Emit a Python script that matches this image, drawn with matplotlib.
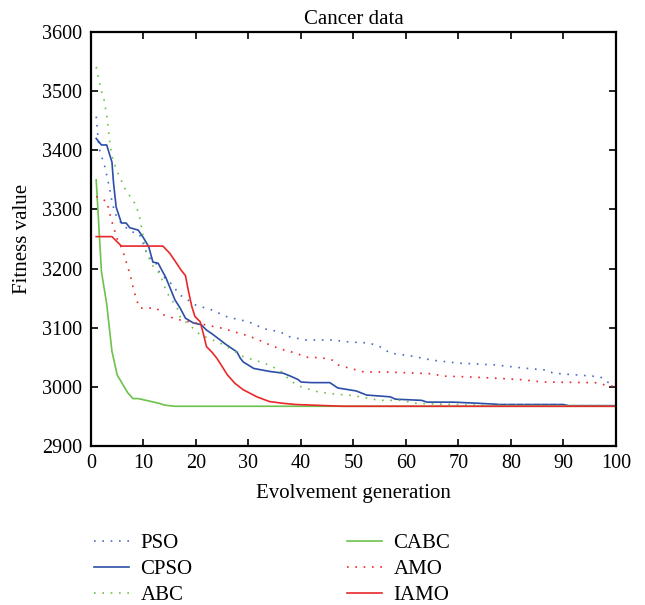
import matplotlib
matplotlib.use("Agg")
from matplotlib import pyplot as plt

plt.rcParams["font.family"] = ["Liberation Serif", "DejaVu Serif"]

# (generation, fitness value) points
pso_gen = [1, 1.5, 2, 2.5, 3, 3.5, 4, 4.5, 5, 6, 7.7, 9, 9.6, 10.2, 10.9, 12.4, 13.1, 15.2, 17, 20,
           23, 26, 30, 33, 36, 38, 41, 46, 49, 53, 55, 57, 61, 65, 70, 77, 82, 87, 88, 97, 98, 100]
pso_val = [3457, 3405, 3390, 3378, 3358, 3338, 3314, 3296, 3286, 3274, 3262, 3260, 3252, 3235, 3220,
           3209, 3192, 3175, 3155, 3138, 3130, 3118, 3110, 3098, 3093, 3084, 3079, 3079, 3076, 3074,
           3068, 3057, 3052, 3045, 3040, 3037, 3032, 3028, 3023, 3017, 3010, 3000]

cpso_gen = [1, 2, 3, 4, 4.3, 4.8, 5.8, 6.7, 7.4, 9, 10, 11, 11.8, 12.8, 14.3, 16, 17, 18, 19.5, 21,
            22, 23.3, 25.8, 27.8, 28.4, 29, 31, 34, 36.6, 38, 39.5, 40, 42, 45.5, 47, 50.5, 52.5, 57,
            58, 63, 64, 69, 74, 78, 90, 91, 100]
cpso_val = [3420, 3409, 3409, 3380, 3345, 3304, 3277, 3277, 3269, 3265, 3252, 3237, 3211, 3209, 3184,
            3147, 3133, 3116, 3108, 3105, 3096, 3088, 3071, 3059, 3049, 3042, 3031, 3026, 3023, 3018,
            3012, 3008, 3007, 3007, 2998, 2993, 2986, 2983, 2979, 2977, 2974, 2974, 2972, 2970, 2970,
            2968, 2968]

abc_gen = [1, 1.5, 2, 2.5, 3, 3.5, 4, 4.5, 5, 5.5, 6.4, 7.7, 8.6, 9.3, 9.9, 10.5, 11.5, 12.1, 13.1,
           13.8, 14.4, 15.4, 16.6, 17, 19.2, 20.8, 24.6, 27, 29, 33, 36, 38, 40, 43, 46, 50, 55, 59,
           62, 72, 100]
abc_val = [3541, 3519, 3500, 3485, 3460, 3420, 3390, 3376, 3364, 3355, 3336, 3319, 3307, 3285, 3257,
           3229, 3209, 3200, 3192, 3175, 3160, 3147, 3130, 3118, 3101, 3088, 3074, 3062, 3051, 3040,
           3028, 3010, 3000, 2992, 2988, 2985, 2977, 2977, 2972, 2969, 2968]

cabc_gen = [1, 2, 3, 4, 5, 6, 7, 8, 9, 10, 12, 13, 14, 16, 100]
cabc_val = [3350, 3195, 3140, 3060, 3020, 3005, 2990, 2980, 2980, 2978, 2974, 2972, 2969, 2967, 2967]

amo_gen = [1, 2, 3, 3.5, 4, 5, 6, 7, 7.5, 8, 8.6, 9.3, 12.5, 13.7, 15, 17, 20, 25, 30, 32, 34, 36,
           39, 41, 44, 46, 47, 49, 52, 56, 65, 67, 71, 76, 82, 86, 96, 98, 100]
amo_val = [3322, 3317, 3314, 3296, 3279, 3250, 3232, 3203, 3188, 3169, 3149, 3133, 3133, 3122, 3118,
           3113, 3108, 3099, 3086, 3079, 3071, 3064, 3057, 3050, 3049, 3045, 3037, 3032, 3025, 3025,
           3022, 3018, 3017, 3015, 3012, 3008, 3007, 3003, 3000]

iamo_gen = [1, 4, 5.8, 13.7, 15, 16.3, 17.2, 18, 18.5, 19.2, 19.8, 20.8, 21.4, 22, 23, 24, 25, 26,
            27.4, 29, 31.6, 34, 36.6, 39, 42, 45, 48, 100]
iamo_val = [3254, 3254, 3238, 3238, 3226, 3209, 3197, 3188, 3165, 3136, 3119, 3110, 3090, 3068, 3059,
            3048, 3034, 3020, 3006, 2995, 2983, 2975, 2972, 2970, 2969, 2968, 2967, 2967]

blue_dot = "#4a6cc4"
blue = "#2c4ea8"
green = "#6cc24a"
red = "#e8282a"
dots = (0, (1, 4))

fig = plt.figure(figsize=(6.45, 6.05), dpi=100)
ax = fig.add_axes([0.141, 0.263, 0.814, 0.684])

ax.plot(pso_gen, pso_val, color=blue_dot, lw=1.2, ls=dots, label="PSO")
ax.plot(cpso_gen, cpso_val, color=blue, lw=1.2, label="CPSO")
ax.plot(abc_gen, abc_val, color=green, lw=1.2, ls=dots, label="ABC")
ax.plot(cabc_gen, cabc_val, color=green, lw=1.2, label="CABC")
ax.plot(amo_gen, amo_val, color=red, lw=1.2, ls=dots, label="AMO")
ax.plot(iamo_gen, iamo_val, color=red, lw=1.2, label="IAMO")

ax.set_xlim(0, 100)
ax.set_ylim(2900, 3600)
ax.set_xticks(range(0, 101, 10))
ax.set_yticks(range(2900, 3601, 100))
ax.tick_params(direction="in", top=True, right=True, length=5, width=1.2, labelsize=14.5)
ax.tick_params(axis="y", pad=6.5)
ax.tick_params(axis="x", pad=6)
for s in ax.spines.values():
    s.set_linewidth(1.6)

ax.set_title("Cancer data", fontsize=15, pad=6)
ax.set_xlabel("Evolvement generation", fontsize=15, labelpad=8)
ax.set_ylabel("Fitness value", fontsize=15, labelpad=7)

fig.legend(loc="upper left", bbox_to_anchor=(0.145, 0.118), ncol=2, frameon=False,
           fontsize=15, handlelength=1.7, handletextpad=0.55, labelspacing=0.3,
           columnspacing=7.4, borderaxespad=0, borderpad=0)

fig.savefig("out.png", dpi=100)
plt.close(fig)
